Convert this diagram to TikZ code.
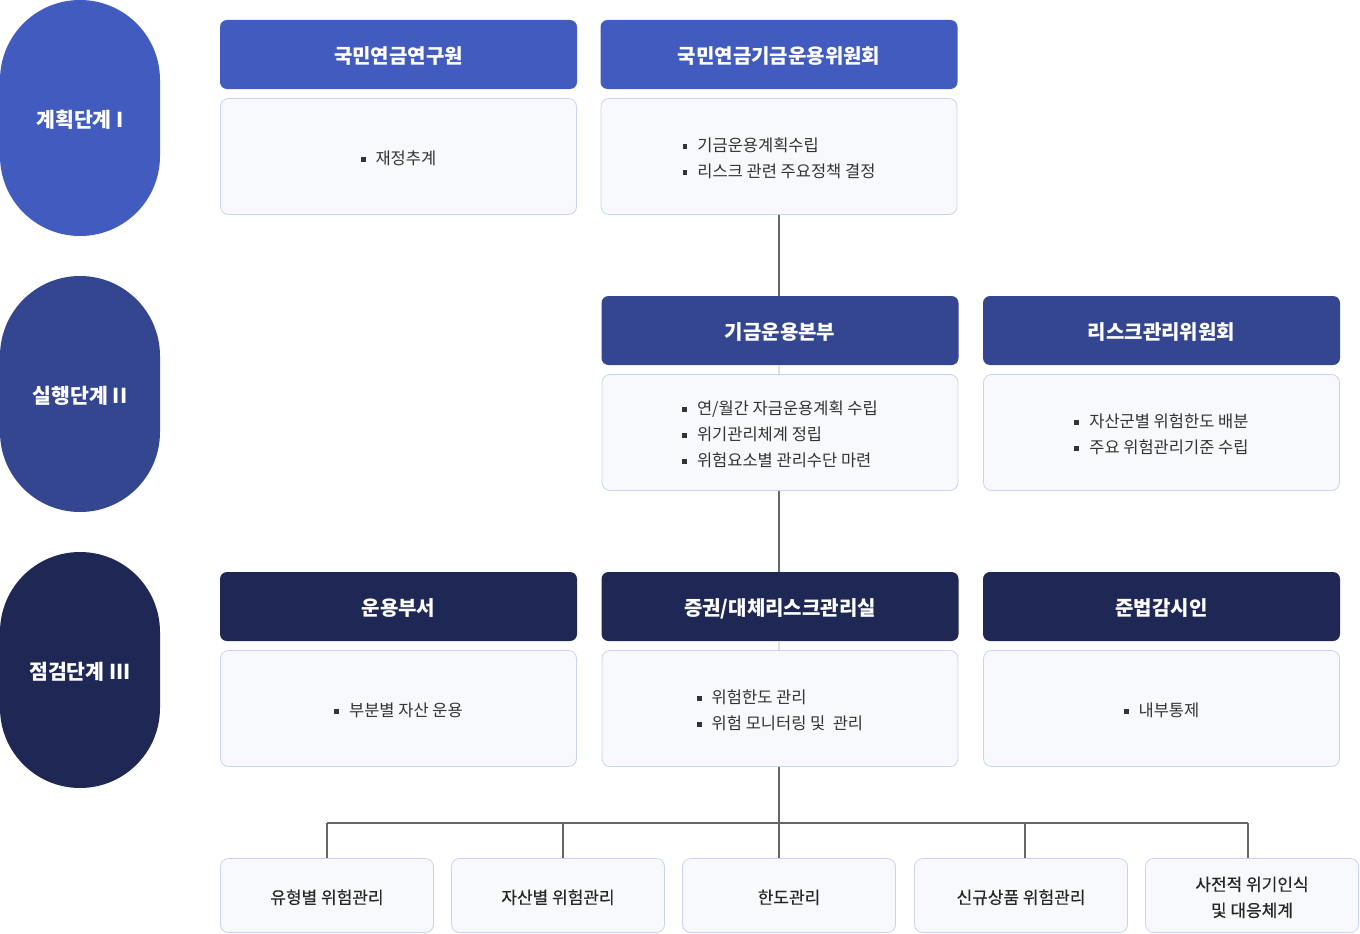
\documentclass[tikz,border=0pt]{standalone}
\usepackage{fontspec}
\setmainfont{Noto Sans CJK KR}
\newfontfamily\medfont{Noto Sans CJK KR}[FakeBold=0.35]
\definecolor{pillA}{HTML}{425BBF}
\definecolor{pillB}{HTML}{33468F}
\definecolor{pillC}{HTML}{1F2855}
\definecolor{bodyfill}{HTML}{F8F9FC}
\definecolor{bodyline}{HTML}{C9D3EF}
\definecolor{conncol}{HTML}{666666}
\definecolor{txt}{HTML}{333333}
\newcommand{\bul}{\textcolor{txt}{\rule[0.33ex]{0.3em}{0.3em}}\hspace{0.6em}}
\newcommand{\tl}[1]{\raisebox{-3pt}[\height][\depth]{\begin{tabular}{@{}l@{}}#1\end{tabular}}}
\newcommand{\tc}[1]{\raisebox{-3pt}[\height][\depth]{\begin{tabular}{@{}c@{}}#1\end{tabular}}}
\newcommand{\thd}[1]{\raisebox{-4.5pt}[\height][\depth]{\begin{tabular}{@{}c@{}}#1\end{tabular}}}
\newcommand{\tpl}[1]{\raisebox{-4pt}[\height][\depth]{\begin{tabular}{@{}c@{}}#1\end{tabular}}}
\tikzset{
  pill/.style={rounded corners=80pt, minimum width=160pt, minimum height=236pt, inner sep=0pt,
    text=white, font=\fontsize{20.5}{24}\selectfont\bfseries},
  hdr/.style={rounded corners=7pt, minimum width=357pt, minimum height=69pt, inner sep=0pt,
    text=white, font=\fontsize{20}{24}\selectfont\bfseries},
  bodybox/.style={rounded corners=8pt, draw=bodyline, line width=0.8pt, fill=bodyfill,
    minimum width=356pt, minimum height=116pt, inner sep=0pt, text=txt,
    font=\fontsize{16.5}{26}\selectfont},
  botbox/.style={rounded corners=8pt, draw=bodyline, line width=0.8pt, fill=bodyfill,
    minimum width=213pt, minimum height=74pt, inner sep=0pt, text=black!85,
    font=\fontsize{17}{26}\selectfont\medfont},
  conn/.style={draw=conncol, line width=2pt},
  faint/.style={draw=black!12, line width=2pt}
}
\begin{document}
\begin{tikzpicture}[x=1pt,y=-1pt]
\useasboundingbox (0,0) rectangle (1360,934);
% stage pills
\node[pill, fill=pillA] (s1) at (80,118) {\tpl{계획단계 I}};
\node[pill, fill=pillB] (s2) at (80,394) {\tpl{실행단계 II}};
\node[pill, fill=pillC] (s3) at (80,670) {\tpl{점검단계 III}};
% row 1
\node[hdr, fill=pillA] (h11) at (398.5,54.5) {\thd{국민연금연구원}};
\node[bodybox] (b11) at (398.5,156.5) {\tl{\bul 재정추계}};
\node[hdr, fill=pillA] (h12) at (779,54.5) {\thd{국민연금기금운용위원회}};
\node[bodybox] (b12) at (779,156.5) {\tl{\bul 기금운용계획수립\\\bul 리스크 관련 주요정책 결정}};
% row 2
\node[hdr, fill=pillB] (h22) at (780,330.5) {\thd{기금운용본부}};
\node[bodybox] (b22) at (780,432.5) {\tl{\bul 연/월간 자금운용계획 수립\\\bul 위기관리체계 정립\\\bul 위험요소별 관리수단 마련}};
\node[hdr, fill=pillB] (h23) at (1161.5,330.5) {\thd{리스크관리위원회}};
\node[bodybox] (b23) at (1161.5,432.5) {\tl{\bul 자산군별 위험한도 배분\\\bul 주요 위험관리기준 수립}};
% row 3
\node[hdr, fill=pillC] (h31) at (398.5,606.5) {\thd{운용부서}};
\node[bodybox] (b31) at (398.5,708.5) {\tl{\bul 부분별 자산 운용}};
\node[hdr, fill=pillC] (h32) at (780,606.5) {\thd{증권/대체리스크관리실}};
\node[bodybox] (b32) at (780,708.5) {\tl{\bul 위험한도 관리\\\bul 위험 모니터링 및 ~관리}};
\node[hdr, fill=pillC] (h33) at (1161.5,606.5) {\thd{준법감시인}};
\node[bodybox] (b33) at (1161.5,708.5) {\tl{\bul 내부통제}};
% bottom row
\node[botbox] (d1) at (327,895.5) {\tc{유형별 위험관리}};
\node[botbox] (d2) at (558,895.5) {\tc{자산별 위험관리}};
\node[botbox] (d3) at (789,895.5) {\tc{한도관리}};
\node[botbox] (d4) at (1021,895.5) {\tc{신규상품 위험관리}};
\node[botbox] (d5) at (1252,895.5) {\tc{사전적 위기인식\\및 대응체계}};
% junctions
\coordinate (top) at (779,215.5);
\coordinate (j1) at (327,823);
\coordinate (j2) at (563,823);
\coordinate (j3) at (779,823);
\coordinate (j4) at (1025,823);
\coordinate (j5) at (1248,823);
% connectors
\draw[faint] (h22.south -| top) -- (b22.north -| top);
\draw[faint] (h32.south -| top) -- (b32.north -| top);
\draw[conn] (b12.south -| top) -- (h22.north -| top);
\draw[conn] (b22.south -| top) -- (h32.north -| top);
\draw[conn] (b32.south -| j3) -- (j3);
\draw[conn] (j1) -- (j5);
\draw[conn] (j1) -- (j1 |- d1.north);
\draw[conn] (j2) -- (j2 |- d2.north);
\draw[conn] (j3) -- (j3 |- d3.north);
\draw[conn] (j4) -- (j4 |- d4.north);
\draw[conn] (j5) -- (j5 |- d5.north);
\end{tikzpicture}
\end{document}
